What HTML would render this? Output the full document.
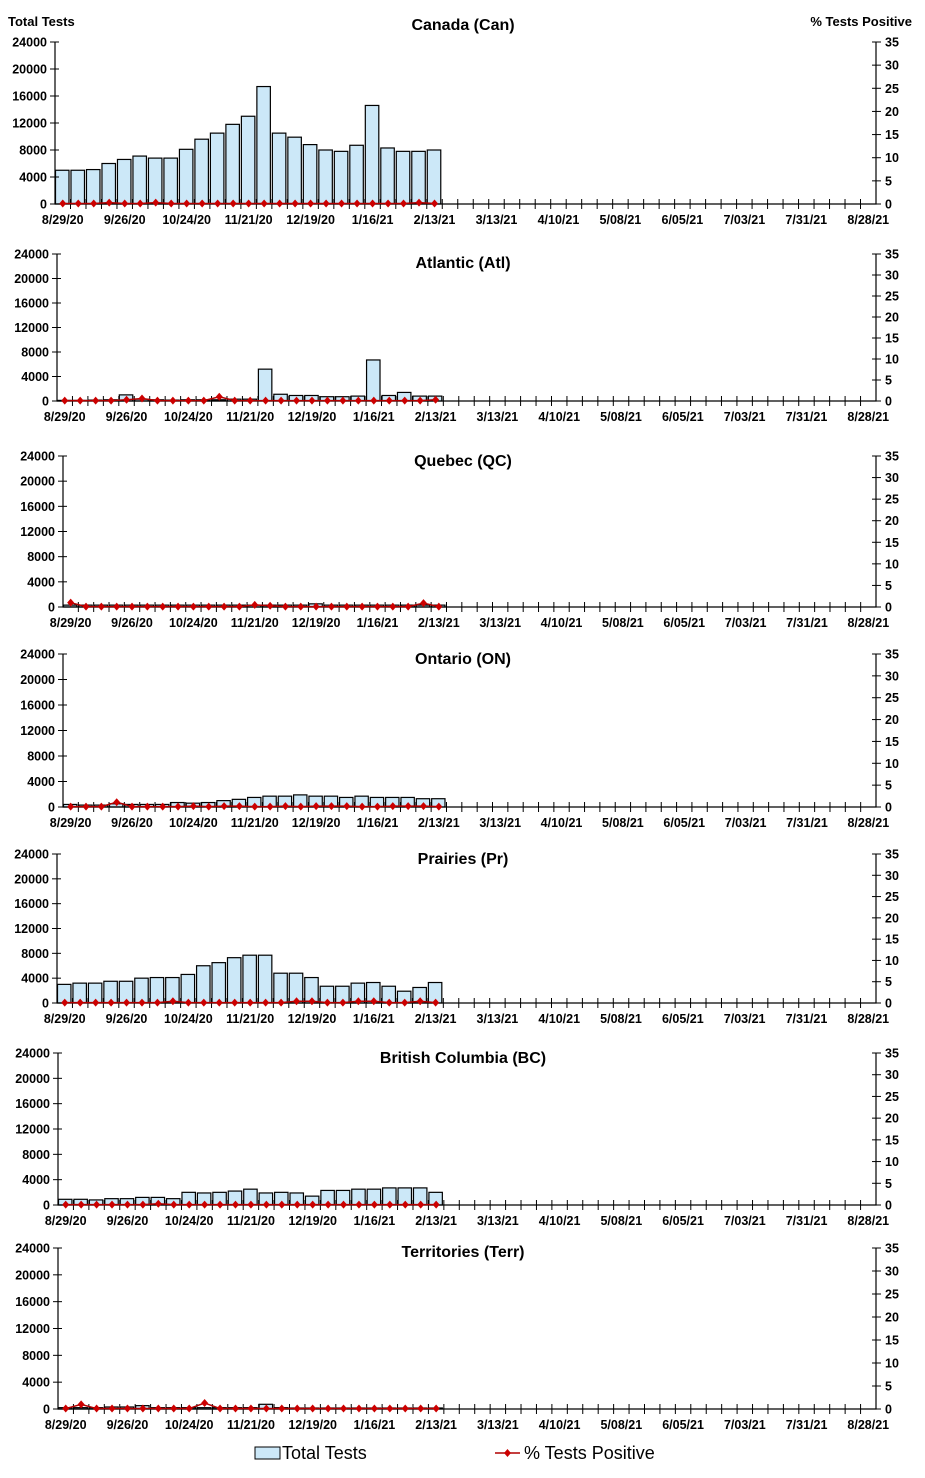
<!DOCTYPE html>
<html><head><meta charset="utf-8"><style>
body{margin:0;background:#fff;}
svg text{font-family:"Liberation Sans",Arial,sans-serif;}
</style></head><body>
<svg id="c" width="925" height="1473" viewBox="0 0 925 1473" xmlns="http://www.w3.org/2000/svg">
<text x="8" y="26" font-size="13" font-weight="bold">Total Tests</text>
<text x="912" y="26" font-size="13" font-weight="bold" text-anchor="end">% Tests Positive</text>
<g>
<rect x="255" y="1447" width="25" height="12" fill="#cce8f8" stroke="#000"/>
<text x="282" y="1459" font-size="18">Total Tests</text>
<line x1="495" y1="1453" x2="520" y2="1453" stroke="#b00000" stroke-width="1.5"/>
<path d="M507.5 1449 L511 1453 L507.5 1457 L504 1453Z" fill="#cc0000"/>
<text x="524" y="1459" font-size="18">% Tests Positive</text>
</g>
</svg>
<script>
const xLabels = ["8/29/20","9/26/20","10/24/20","11/21/20","12/19/20","1/16/21","2/13/21","3/13/21","4/10/21","5/08/21","6/05/21","7/03/21","7/31/21","8/28/21"];
const leftTicks = [0,4000,8000,12000,16000,20000,24000];
const rightTicks = [0,5,10,15,20,25,30,35];
const regionNames = ["Canada (Can)","Atlantic (Atl)","Quebec (QC)","Ontario (ON)","Prairies (Pr)","British Columbia (BC)","Territories (Terr)"];
const testsCan = [5000,5000,5100,6000,6600,7100,6800,6800,8100,9600,10500,11800,13000,17400,10500,9900,8800,8000,7800,8700,14600,8300,7800,7800,8000];
const pctCan = [0.1,0.1,0.1,0.3,0.1,0.1,0.3,0.1,0.1,0.1,0.1,0.1,0.1,0.1,0.1,0.1,0.1,0.1,0.1,0.1,0.1,0.1,0.1,0.3,0.1];
const testsAtl = [100,100,150,200,1000,300,200,150,200,200,200,300,300,5200,1100,900,900,700,700,800,6700,900,1400,800,800];
const pctAtl = [0.1,0.1,0.1,0.1,0.3,0.6,0.1,0.1,0.1,0.1,1.0,0.1,0.1,0.1,0.1,0.1,0.1,0.1,0.1,0.1,0.1,0.1,0.1,0.1,0.3];
const testsQC = [300,300,300,300,300,300,300,300,300,300,300,300,300,300,300,300,500,300,300,300,300,300,300,300,300];
const pctQC = [1.0,0.1,0.1,0.1,0.1,0.1,0.1,0.1,0.1,0.1,0.1,0.1,0.5,0.3,0.1,0.1,0.1,0.1,0.1,0.1,0.1,0.1,0.1,0.9,0.1];
const testsON = [400,300,300,500,400,400,400,700,600,700,1000,1200,1500,1700,1700,1900,1700,1700,1500,1700,1500,1500,1500,1300,1300];
const pctON = [0.1,0.1,0.1,1.1,0.1,0.1,0.1,0.1,0.2,0.1,0.2,0.2,0.1,0.1,0.2,0.1,0.2,0.2,0.2,0.1,0.1,0.2,0.2,0.2,0.1];
const testsPr = [3000,3200,3200,3500,3500,4000,4100,4100,4600,6000,6500,7300,7700,7700,4800,4800,4100,2700,2700,3200,3300,2700,1900,2500,3300];
const pctPr = [0.1,0.1,0.1,0.1,0.1,0.1,0.1,0.4,0.1,0.1,0.1,0.1,0.1,0.1,0.1,0.4,0.4,0.1,0.1,0.4,0.4,0.1,0.1,0.4,0.1];
const testsBC = [900,900,800,1000,1000,1200,1200,1000,2000,1900,2000,2200,2500,1900,2000,1900,1400,2300,2300,2500,2500,2700,2700,2700,2000];
const pctBC = [0.1,0.1,0.1,0.1,0.1,0.1,0.3,0.1,0.1,0.1,0.1,0.1,0.1,0.1,0.1,0.1,0.1,0.1,0.1,0.1,0.1,0.1,0.1,0.1,0.1];
const testsTerr = [200,200,200,300,300,500,200,200,200,200,200,200,200,700,200,150,150,150,150,150,150,150,150,150,150];
const pctTerr = [0.1,1.0,0.1,0.1,0.1,0.1,0.1,0.1,0.1,1.3,0.1,0.1,0.1,0.1,0.1,0.1,0.1,0.1,0.1,0.1,0.1,0.1,0.1,0.1,0.1];
const allTests = [testsCan,testsAtl,testsQC,testsON,testsPr,testsBC,testsTerr];
const allPct = [pctCan,pctAtl,pctQC,pctON,pctPr,pctBC,pctTerr];
const NCAT = 53;

const layouts = [
 {left:55,top:42,zero:204,ty:30},
 {left:57,top:254,zero:401,ty:268},
 {left:63,top:456,zero:607,ty:466},
 {left:63,top:654,zero:807,ty:664},
 {left:57,top:854,zero:1003,ty:864},
 {left:58,top:1053,zero:1205,ty:1063},
 {left:58,top:1248,zero:1409,ty:1257}
];
const RIGHT = 876;
const svg = document.getElementById('c');
const NS = 'http://www.w3.org/2000/svg';
function mk(tag, attrs, parent){const e=document.createElementNS(NS,tag);for(const k in attrs)e.setAttribute(k,attrs[k]);parent.appendChild(e);return e;}

layouts.forEach((L, p) => {
  const g = mk('g',{},svg);
  
  
  const bw = (RIGHT - L.left) / NCAT;
  const xs = i => L.left + i * bw;
  const yL = v => L.zero - (v / 24000) * (L.zero - L.top);
  const yR = v => L.zero - (v / 35) * (L.zero - L.top);
  const t = mk('text',{x:463,y:L.ty,'font-size':16,'font-weight':'bold','text-anchor':'middle'},g);
  t.textContent = regionNames[p];
  
  
  allTests[p].forEach((v,i) => {
    const r = mk('rect',{x:xs(i)+0.5,y:yL(v),width:bw-2,height:L.zero-yL(v),fill:'#cce8f8',stroke:'#000','stroke-width':1.2},g);
    
    
  });
  const ax = mk('path',{d:`M${L.left} ${L.top}V${L.zero}H${RIGHT}V${L.top}`,fill:'none',stroke:'#000','stroke-width':1.2},g);
  
  
  leftTicks.forEach(v => {
    mk('line',{x1:L.left-5,x2:L.left+4,y1:yL(v),y2:yL(v),stroke:'#000'},g);
    const tx = mk('text',{x:L.left-8,y:yL(v)+4.5,'font-size':12.5,'font-weight':'bold','text-anchor':'end'},g);
    tx.textContent = v;
    
    
  });
  rightTicks.forEach(v => {
    mk('line',{x1:RIGHT-4,x2:RIGHT+5,y1:yR(v),y2:yR(v),stroke:'#000'},g);
    const tx = mk('text',{x:RIGHT+9,y:yR(v)+4.5,'font-size':12.5,'font-weight':'bold'},g);
    tx.textContent = v;
    
    
  });
  for (let i=1;i<NCAT;i++) mk('line',{x1:xs(i),x2:xs(i),y1:L.zero-5,y2:L.zero+5,stroke:'#000'},g);
  xLabels.forEach((lab,k) => {
    const tx = mk('text',{x:xs(k*4+0.5),y:L.zero+20,'font-size':12.5,'font-weight':'bold','text-anchor':'middle'},g);
    tx.textContent = lab;
    
    
  });
  const pts = allPct[p].map((v,i)=>[xs(i+0.5),yR(v)]);
  const pl = mk('polyline',{points:pts.map(q=>q.join(',')).join(' '),fill:'none',stroke:'#b00000','stroke-width':1.5},g);
  
  
  pts.forEach(q => {
    const d = mk('path',{d:`M${q[0]} ${q[1]-4}L${q[0]+3.5} ${q[1]}L${q[0]} ${q[1]+4}L${q[0]-3.5} ${q[1]}Z`,fill:'#cc0000'},g);
    
    
  });
});
</script>
</body></html>
